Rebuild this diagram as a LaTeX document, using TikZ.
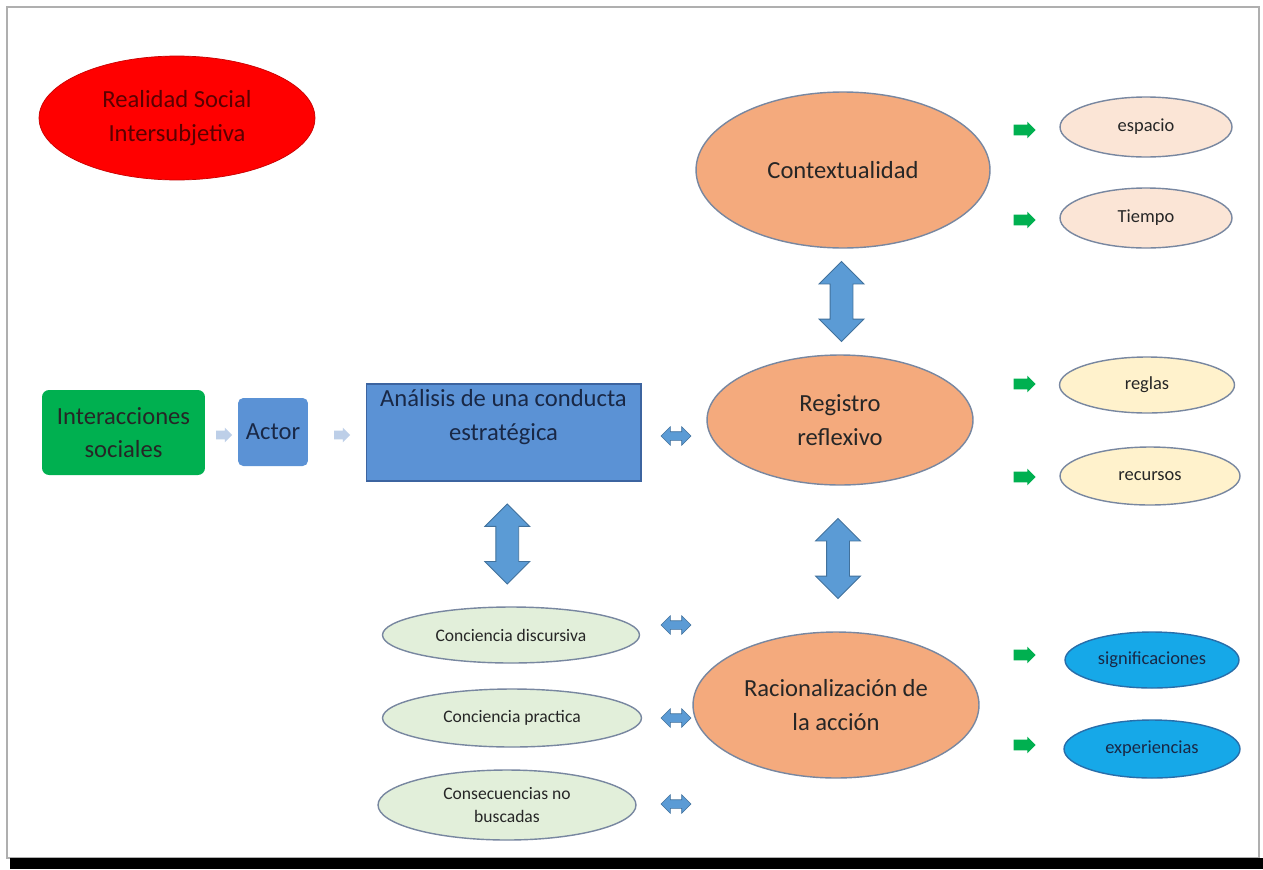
\documentclass[tikz,border=0pt]{standalone}
\usepackage{fontspec}
\setmainfont{Carlito}
\usetikzlibrary{positioning,shapes.geometric,shapes.arrows,calc}
\definecolor{salmon}{RGB}{244,170,125}
\definecolor{ellline}{RGB}{120,135,160}
\definecolor{txtdark}{RGB}{38,38,38}
\definecolor{txtnavy}{RGB}{25,40,70}
\definecolor{peach}{RGB}{251,229,214}
\definecolor{paleyellow}{RGB}{255,242,204}
\definecolor{palegreen}{RGB}{226,239,218}
\definecolor{skyblue}{RGB}{22,168,232}
\definecolor{skyline}{RGB}{40,110,170}
\definecolor{boxgreen}{RGB}{0,176,80}
\definecolor{boxblue}{RGB}{91,146,213}
\definecolor{boxline}{RGB}{60,100,160}
\definecolor{arrowblue}{RGB}{91,155,213}
\definecolor{arrowline}{RGB}{65,113,156}
\definecolor{lightarrow}{RGB}{189,207,232}
\definecolor{framegray}{RGB}{175,175,175}
\definecolor{darkred}{RGB}{90,0,0}
\tikzset{
  bigell/.style={ellipse, draw=ellline, fill=salmon, line width=0.8pt, inner sep=0pt,
    align=center, text=txtdark, font=\fontsize{14}{19}\selectfont},
  smallell/.style={ellipse, draw=ellline, line width=0.8pt, inner sep=0pt,
    align=center, text=txtdark, font=\fontsize{10}{13}\selectfont},
  sideell/.style={smallell, font=\fontsize{10.5}{13}\selectfont},
  sqbox/.style={rectangle, inner sep=0pt, align=center, text=txtnavy,
    font=\fontsize{14}{19}\selectfont},
  bigdarrow/.style={double arrow, rotate=90, fill=arrowblue, draw=arrowline, line width=0.5pt,
    inner xsep=0pt, inner ysep=0.22cm, double arrow head extend=0.22cm,
    minimum width=0.88cm, minimum height=1.6cm},
  smalldarrow/.style={double arrow, fill=arrowblue, draw=arrowline, line width=0.3pt,
    inner xsep=0pt, inner ysep=0.08cm, double arrow head extend=0.1cm,
    minimum width=0.36cm, minimum height=0.6cm},
  greenarrow/.style={single arrow, fill=boxgreen, draw=none,
    inner xsep=0pt, inner ysep=0.1cm, single arrow head extend=0.06cm,
    minimum width=0.32cm, minimum height=0.44cm},
  palearrow/.style={single arrow, fill=lightarrow, draw=none,
    inner xsep=0pt, inner ysep=0.08cm, single arrow head extend=0.06cm,
    minimum width=0.28cm, minimum height=0.32cm}
}
\begin{document}
\begin{tikzpicture}[x=0.02cm, y=-0.02cm]
\useasboundingbox (0,0) rectangle (1263,869);
\fill[white] (0,0) rectangle (1263,869);
\draw[framegray, line width=1.2pt] (7,7) rectangle (1259,858);
\fill[black] (10,858) rectangle (1263,869);

\node[ellipse, fill=red, draw={rgb,255:red,200;green,0;blue,0}, minimum width=5.52cm, minimum height=2.48cm,
  inner sep=0pt, align=center, text=darkred, font=\fontsize{14}{19}\selectfont]
  (realidad) at (177,118) {Realidad Social\\Intersubjetiva};

\node[bigell, minimum width=5.88cm, minimum height=3.12cm] (ctx) at (843,170) {Contextualidad};
\node[bigell, minimum width=5.32cm, minimum height=2.6cm] (reg) at (840,420) {Registro\\reflexivo};
\node[bigell, minimum width=5.72cm, minimum height=2.92cm] (rac) at (836,705) {Racionalización de\\la acción};

\node[sideell, fill=peach, minimum width=3.44cm, minimum height=1.2cm] (esp) at (1146,127) {espacio};
\node[sideell, fill=peach, minimum width=3.44cm, minimum height=1.2cm] (tie) at (1146,218) {Tiempo};
\node[sideell, fill=paleyellow, minimum width=3.5cm, minimum height=1.12cm] (reglas) at (1147,385) {reglas};
\node[sideell, fill=paleyellow, minimum width=3.6cm, minimum height=1.16cm] (recursos) at (1150,476) {recursos};
\node[sideell, fill=skyblue, draw=skyline, text=txtnavy, minimum width=3.48cm, minimum height=1.12cm] (sig) at (1152,660) {significaciones};
\node[sideell, fill=skyblue, draw=skyline, text=txtnavy, minimum width=3.52cm, minimum height=1.16cm] (exp) at (1152,749) {experiencias};

\node[sqbox, fill=boxgreen, rounded corners=4pt, text=txtdark, minimum width=3.26cm, minimum height=1.7cm]
  (inter) at (123.5,432.5) {Interacciones\\sociales};
\node[sqbox, fill=boxblue, rounded corners=3pt, minimum width=1.4cm, minimum height=1.36cm] (actor) at (273,432) {Actor};
\node[sqbox, fill=boxblue, draw=boxline, line width=0.6pt, minimum width=5.5cm, minimum height=1.94cm] (ana) at (503.5,432.5) {};
\node[sqbox, below=0.12cm of ana.north] (anatxt) {Análisis de una conducta\\estratégica};

\node[smallell, fill=palegreen, minimum width=5.14cm, minimum height=1.12cm] (cdis) at (511,635) {Conciencia discursiva};
\node[smallell, fill=palegreen, minimum width=5.18cm, minimum height=1.16cm] (cpra) at (512,718) {Conciencia practica};
\node[smallell, fill=palegreen, minimum width=5.16cm, minimum height=1.4cm] (cnob) at (507,805) {Consecuencias no\\buscadas};

\node[palearrow] (pa1) at (222,435) {};
\node[palearrow] (pa2) at (340,435) {};

\node[bigdarrow] (v1) at ($(ctx.south)!0.5!(reg.north)$) {};
\node[bigdarrow] (v2) at ($(reg.south)!0.5!(rac.north)$) {};
\node[bigdarrow] (v3) at ($(ana.south)!0.5!(cdis.north)$) {};

\node[smalldarrow] (h1) at (676,436) {};
\node[smalldarrow] (h2) at (676,625) {};
\node[smalldarrow] (h3) at (676,718) {};
\node[smalldarrow] (h4) at (676,804) {};

\foreach \gy [count=\gi] in {130,220,384,477,655,745}
  \node[greenarrow] (g\gi) at (1022,\gy) {};
\end{tikzpicture}
\end{document}
